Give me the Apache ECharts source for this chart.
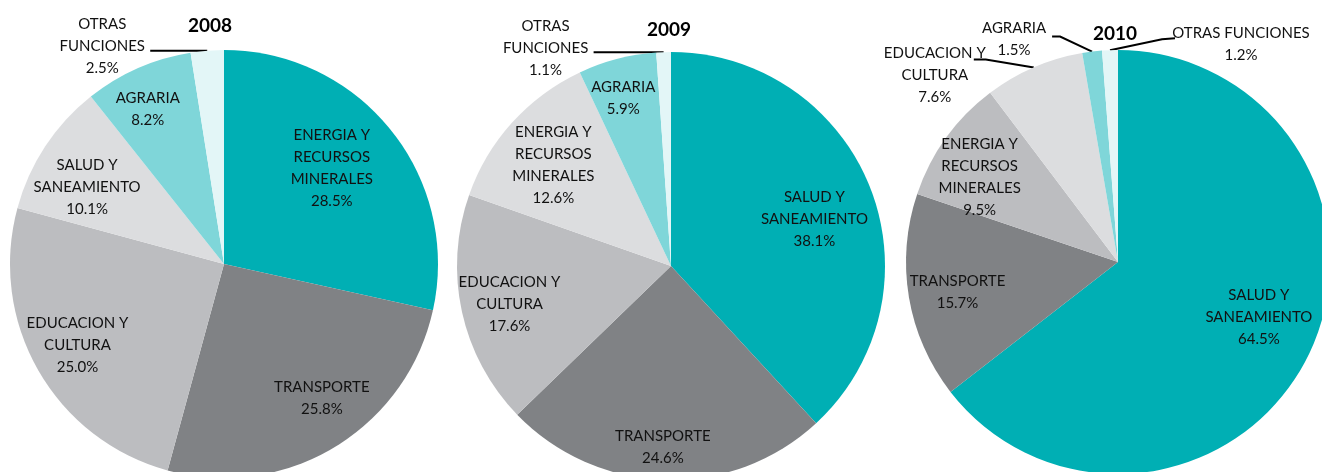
<!DOCTYPE html>
<html lang="es">
<head>
    <meta charset="UTF-8">
    <title>Distribucion por funciones 2008-2010</title>
    <script src="https://cdn.jsdelivr.net/npm/echarts@6/dist/echarts.min.js"></script>
    <style>
        body { margin: 0; background: #fff; }
    </style>
</head>
<body>
<div id="main" style="width:1322px;height:472px;"></div>

<script type="text/javascript">
    // datos por año (orden de las porciones, en sentido horario desde las 12)
    var years = ['2008', '2009', '2010'];

    var names2008 = ['ENERGIA Y\nRECURSOS\nMINERALES', 'TRANSPORTE', 'EDUCACION Y\nCULTURA', 'SALUD Y\nSANEAMIENTO', 'AGRARIA', 'OTRAS\nFUNCIONES'];
    var values2008 = [28.5, 25.8, 25.0, 10.1, 8.2, 2.5];

    var names2009 = ['SALUD Y\nSANEAMIENTO', 'TRANSPORTE', 'EDUCACION Y\nCULTURA', 'ENERGIA Y\nRECURSOS\nMINERALES', 'AGRARIA', 'OTRAS\nFUNCIONES'];
    var values2009 = [38.1, 24.6, 17.6, 12.6, 5.9, 1.1];

    var names2010 = ['SALUD Y\nSANEAMIENTO', 'TRANSPORTE', 'ENERGIA Y\nRECURSOS\nMINERALES', 'EDUCACION Y\nCULTURA', 'AGRARIA', 'OTRAS FUNCIONES'];
    var values2010 = [64.5, 15.7, 9.5, 7.6, 1.5, 1.2];

    // color por posicion de la porcion (no por nombre)
    var sliceColors = ['#00AFB4', '#808285', '#BCBDC0', '#DCDDDF', '#7FD6D9', '#E3F6F7'];

    // ajustes de etiquetas (desplazamiento desde la posicion interior por defecto)
    var nudges = [
        [[22, -27], [41, 40], [-51, 27], [-45, -16], [-32, -54], null],
        [[41, -7], [-5, 71], [-54, 15], [-36, -27], [-20, -61], null],
        [[43, 7], [-53, 12], [-50, -21], null, null, null]
    ];
    // etiquetas externas: posicion del texto y linea guia relativas al borde de la porcion
    var outside = [
        {5: {label: [-105, -5], line: [[-30, 0], [-57, 0]]}},
        {5: {label: [-118, -4], line: [[-35, 0], [-70, 0]]}},
        {
            3: {label: [-99, 8], line: [[-48, -8], [-60, -8]]},
            4: {label: [-78, -12], line: [[-32, -15], [-40, -15]]},
            5: {label: [131, -6], line: [[52, -11], [65, -12]]}
        }
    ];

    var centers = [[224, 264], [671, 266], [1118, 262]];
    var radii = [214, 214, 212];
    var titleLeft = [188, 647, 1093];
    var titleTop = [16, 20, 24];

    var allNames = [names2008, names2009, names2010];
    var allValues = [values2008, values2009, values2010];

    var FONT = 'Lato';

    function buildSeries(k) {
        var data = [];
        for (var i = 0; i < allValues[k].length; i++) {
            var item = {
                name: allNames[k][i],
                value: allValues[k][i],
                itemStyle: {color: sliceColors[i]}
            };
            if (outside[k][i]) {
                item.label = {position: 'outside'};
                item.labelLine = {show: true};
            }
            data.push(item);
        }
        return {
            type: 'pie',
            center: centers[k],
            radius: radii[k],
            startAngle: 90,
            clockwise: true,
            avoidLabelOverlap: false,
            silent: true,
            animation: false,
            itemStyle: {borderWidth: 0},
            label: {
                show: true,
                position: 'inside',
                color: '#111',
                fontFamily: FONT,
                fontSize: 15,
                lineHeight: 22,
                align: 'center',
                overflow: 'none',
                formatter: function (p) {
                    return p.name + '\n' + p.value.toFixed(1) + '%';
                }
            },
            labelLine: {
                show: false,
                length: 10,
                length2: 10,
                lineStyle: {color: '#000', width: 2}
            },
            labelLayout: function (params) {
                var i = params.dataIndex;
                var o = outside[k][i];
                if (o && params.labelLinePoints) {
                    var p0 = params.labelLinePoints[0];
                    var pts = [[p0[0], p0[1]]];
                    for (var j = 0; j < o.line.length; j++) {
                        pts.push([p0[0] + o.line[j][0], p0[1] + o.line[j][1]]);
                    }
                    return {
                        x: p0[0] + o.label[0],
                        y: p0[1] + o.label[1],
                        align: 'center',
                        verticalAlign: 'middle',
                        labelLinePoints: pts
                    };
                }
                var n = nudges[k][i];
                if (n) {
                    return {dx: n[0], dy: n[1]};
                }
                return {};
            },
            data: data
        };
    }

    var myChart = echarts.init(document.getElementById('main'));
    var option = {
        backgroundColor: '#fff',
        title: years.map(function (y, k) {
            return {
                text: y,
                left: titleLeft[k],
                top: titleTop[k],
                padding: 0,
                textStyle: {fontFamily: FONT, fontSize: 19, fontWeight: 'bold', color: '#000'}
            };
        }),
        series: [buildSeries(0), buildSeries(1), buildSeries(2)]
    };
    myChart.setOption(option);
</script>
</body>
</html>
